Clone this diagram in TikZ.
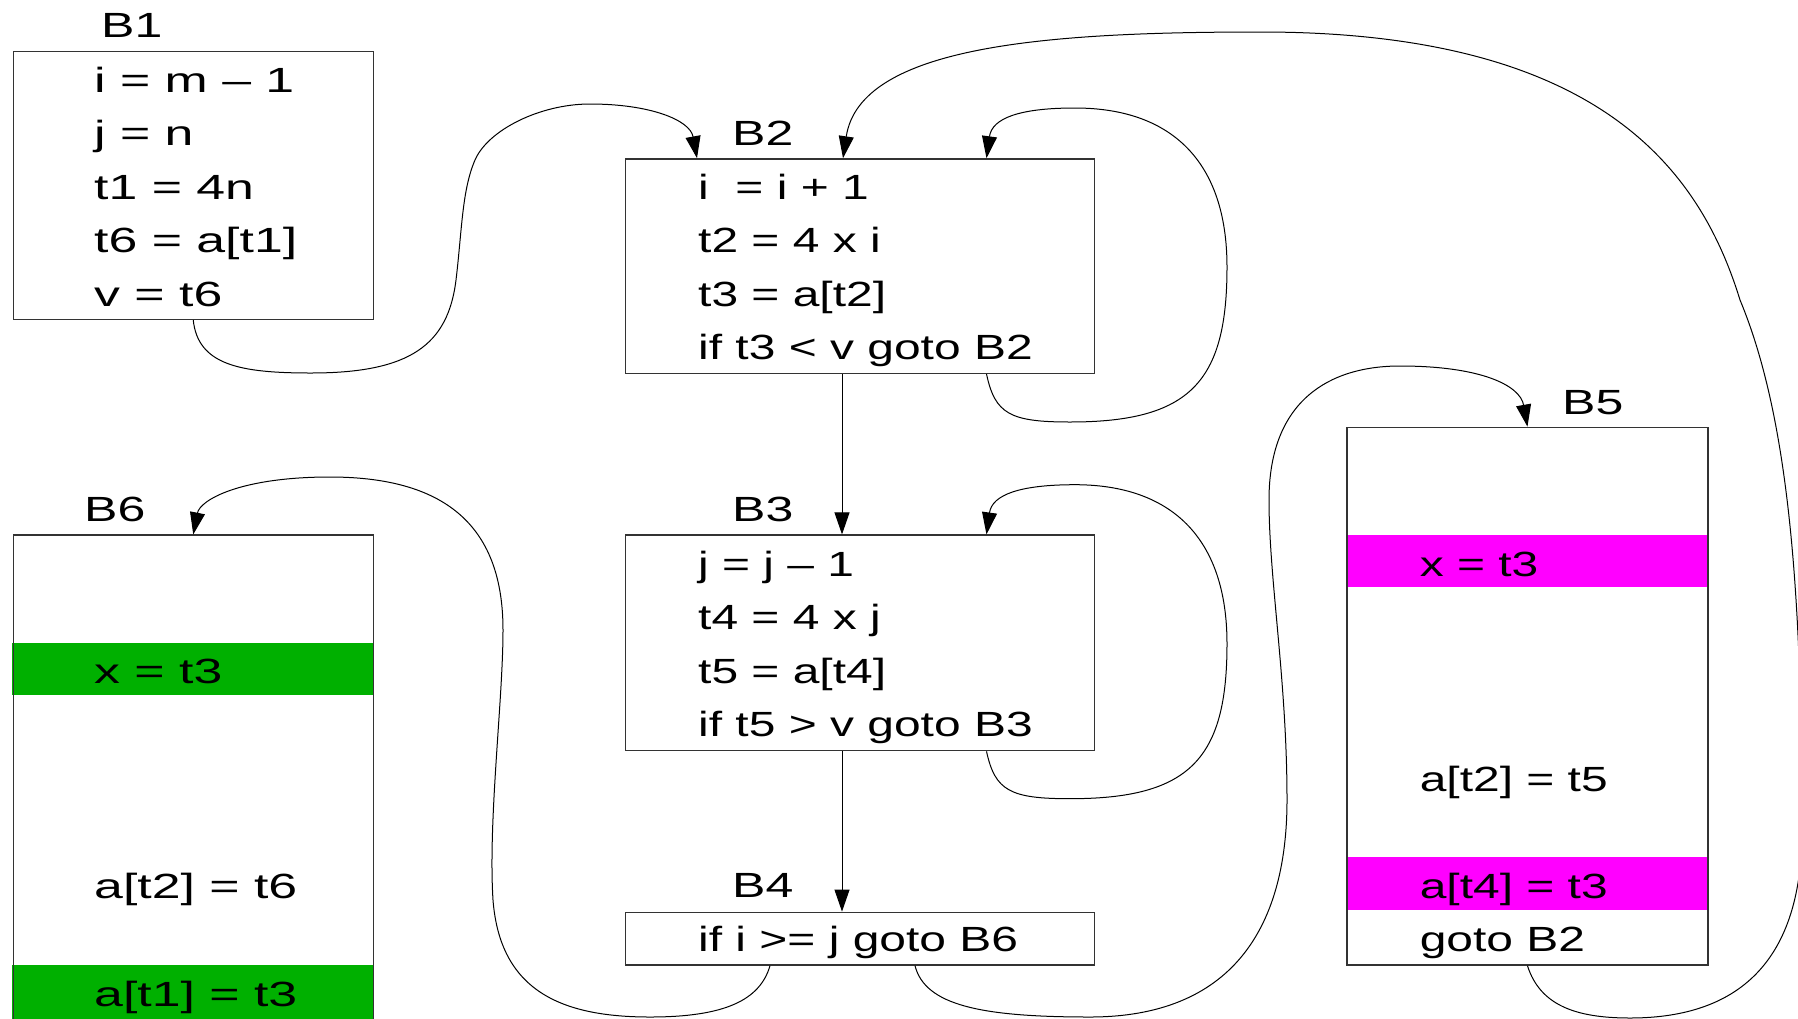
\documentclass[tikz,border=0pt]{standalone}
\usepackage{fontspec}
\setmainfont{Liberation Sans}[FakeStretch=1.37]
\newfontfamily\widefont{Liberation Sans}[FakeStretch=1.48]
\newfontfamily\labelfont{Liberation Sans}[FakeStretch=1.43]
\usetikzlibrary{arrows.meta,calc}
\definecolor{bandmag}{RGB}{255,0,255}
\definecolor{bandgrn}{RGB}{0,176,0}
\begin{document}
\begin{tikzpicture}[x=1pt,y=-1pt,
  blk/.style={draw=black!80,line width=1.3pt,inner sep=0pt,anchor=north west},
  txt/.style={anchor=base west,inner sep=0pt,font=\fontsize{35}{40}\selectfont},
  wtxt/.style={anchor=base west,inner sep=0pt,font=\widefont\fontsize{35}{40}\selectfont},
  lbl/.style={anchor=base west,inner sep=0pt,font=\labelfont\fontsize{35}{40}\selectfont},
  flow/.style={line width=1pt,-{Triangle[length=22pt,width=15pt]}},
]
\useasboundingbox (0,0) rectangle (1798,1018);
\fill[white] (0,0) rectangle (1798,1018);
\clip (0,0) rectangle (1798,1018);

% colour bands
\fill[bandmag] (1346,535) rectangle (1707,587);
\fill[bandmag] (1346,857) rectangle (1707,910);
\fill[bandgrn] (12,643) rectangle (373,695);
\fill[bandgrn] (12,965) rectangle (373,1030);

% blocks
\node[blk,minimum width=360pt,minimum height=268.3pt] (b1) at (12.6,50.5) {};
\node[blk,minimum width=469pt,minimum height=214.5pt] (b2) at (625,158.2) {};
\node[blk,minimum width=469pt,minimum height=215.6pt] (b3) at (625,534.4) {};
\node[blk,minimum width=469pt,minimum height=52.8pt] (b4) at (625,911.6) {};
\node[blk,minimum width=361.2pt,minimum height=537.8pt] (b5) at (1346.2,426.6) {};
\node[blk,minimum width=360pt,minimum height=520pt] (b6) at (12.6,534.4) {};

% labels
\node[lbl] (l1) at (101,37.8) {B1};
\node[lbl] (l2) at (732,145.6) {B2};
\node[lbl] (l3) at (732,521.7) {B3};
\node[lbl] (l4) at (732,897.9) {B4};
\node[lbl] (l5) at (1562,414) {B5};
\node[lbl] (l6) at (84,521.7) {B6};

% B1 text
\node[wtxt] (t11) at (94,92) {i = m – 1};
\node[wtxt] (t12) at (94,145.6) {j = n};
\node[wtxt] (t13) at (94,199.2) {t1 = 4n};
\node[wtxt] (t14) at (94,252.8) {t6 = a[t1]};
\node[wtxt] (t15) at (94,306.4) {v = t6};
% B2 text
\node[txt] (t21) at (698,199) {i\ \ = i + 1};
\node[txt] (t22) at (698,252.6) {t2 = 4 x i};
\node[txt] (t23) at (698,306.2) {t3 = a[t2]};
\node[txt] (t24) at (698,359.8) {if t3 < v goto B2};
% B3 text
\node[txt] (t31) at (698,576) {j = j – 1};
\node[txt] (t32) at (698,629.6) {t4 = 4 x j};
\node[txt] (t33) at (698,683.2) {t5 = a[t4]};
\node[txt] (t34) at (698,736.8) {if t5 > v goto B3};
% B4 text
\node[txt] (t41) at (698,951.7) {if i >= j goto B6};
% B5 text
\node[txt] (t51) at (1419.6,576) {x = t3};
\node[txt] (t52) at (1419.6,791) {a[t2] = t5};
\node[txt] (t53) at (1419.6,898) {a[t4] = t3};
\node[txt] (t54) at (1419.6,951.7) {goto B2};
% B6 text
\node[wtxt] (t61) at (94,683.4) {x = t3};
\node[wtxt] (t62) at (94,898) {a[t2] = t6};
\node[wtxt] (t63) at (94,1006.8) {a[t1] = t3};

% connector end points
\coordinate (b2inA) at ($(b2.north west)+(72,0)$);
\coordinate (b2inB) at ($(b2.north west)+(218,0)$);
\coordinate (b2inC) at ($(b2.north west)+(361.5,0)$);
\coordinate (b2outB) at ($(b2.south west)+(217,0)$);
\coordinate (b2outC) at ($(b2.south west)+(361.5,0)$);
\coordinate (b3inB) at ($(b3.north west)+(217,0)$);
\coordinate (b3inC) at ($(b3.north west)+(361.5,0)$);
\coordinate (b3outB) at ($(b3.south west)+(217,0)$);
\coordinate (b3outC) at ($(b3.south west)+(361.5,0)$);
\coordinate (b4inB) at ($(b4.north west)+(217,0)$);
\coordinate (b4outL) at ($(b4.south west)+(145,0)$);
\coordinate (b4outR) at ($(b4.south west)+(290,0)$);

% B1 -> B2
\draw[flow] (b1.south) .. controls (198,365) and (240,373) .. (311,373)
  .. controls (410,373) and (448,345) .. (456,280)
  .. controls (462,230) and (462,190) .. (475,160)
  .. controls (488,130) and (540,104) .. (590,104)
  .. controls (650,104) and (690,120) .. (b2inA);
% B2 -> B2
\draw[flow] (b2outC) .. controls (995,414) and (1010,422) .. (1070,422)
  .. controls (1190,422) and (1227,382) .. (1227,267)
  .. controls (1227,160) and (1170,108) .. (1075,108)
  .. controls (1020,108) and (992,118) .. (b2inC);
% B2 -> B3
\draw[flow] (b2outB) -- (b3inB);
% B3 -> B3
\draw[flow] (b3outC) .. controls (995,790.7) and (1010,798.7) .. (1070,798.7)
  .. controls (1190,798.7) and (1227,758.7) .. (1227,643.7)
  .. controls (1227,536.7) and (1170,484.7) .. (1075,484.7)
  .. controls (1020,484.7) and (992,494.7) .. (b3inC);
% B3 -> B4
\draw[flow] (b3outB) -- (b4inB);
% B4 -> B6
\draw[flow] (b4outL) .. controls (760,1000) and (725,1017) .. (650,1017)
  .. controls (560,1017) and (500,990) .. (493,900)
  .. controls (488,820) and (503,700) .. (503,630)
  .. controls (503,530) and (450,477) .. (330,477)
  .. controls (240,477) and (200,500) .. (b6.north);
% B4 -> B5
\draw[flow] (b4outR) .. controls (925,1005) and (980,1017) .. (1090,1017)
  .. controls (1230,1017) and (1287,930) .. (1287,800)
  .. controls (1287,680) and (1269,580) .. (1269,500)
  .. controls (1269,400) and (1330,366) .. (1400,366)
  .. controls (1480,366) and (1520,385) .. (b5.north);
% B5 -> B2
\draw[flow] (b5.south) .. controls (1540,1005) and (1575,1018) .. (1630,1018)
  .. controls (1730,1018) and (1802,970) .. (1802,830)
  .. controls (1802,600) and (1790,420) .. (1740,300)
  .. controls (1700,170) and (1600,32) .. (1261,32)
  .. controls (1050,32) and (860,45) .. (b2inB);
\end{tikzpicture}
\end{document}
